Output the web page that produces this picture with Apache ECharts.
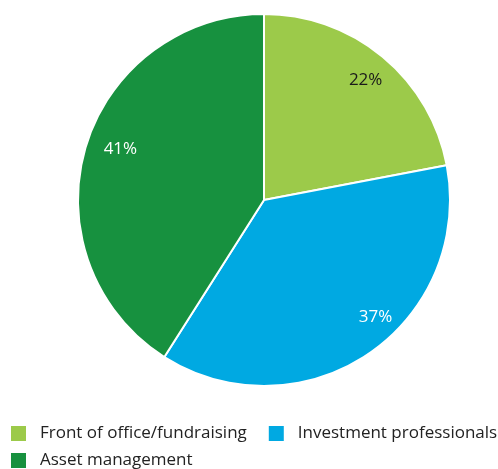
<!DOCTYPE html>
<html>
<head>
<meta charset="utf-8">
<script src="https://cdn.jsdelivr.net/npm/echarts@6/dist/echarts.min.js"></script>
<style>
  html, body { margin: 0; padding: 0; background: #fff; }
  #chart { width: 498px; height: 469px; }
</style>
</head>
<body>
<div id="chart"></div>
<script>
// Staff split by function
const categories = ['Front of office/fundraising', 'Investment professionals', 'Asset management'];
const shares = [22, 37, 41];
const colors = ['#9CCA4A', '#00A9E2', '#17913F'];
const labelColors = ['#1a1a1a', '#ffffff', '#ffffff'];
// small nudges of the percentage labels away from the slice mid-angles
const labelNudges = [[-1, 4], [21, -16], [11, -6]];

const FONT = '"Open Sans", "Noto Sans", sans-serif';
const center = [264, 200];
const R = 186;

const sliceData = categories.map((name, i) => ({
  name, value: shares[i], itemStyle: { color: colors[i] }
}));

// transparent ring that only carries the percentage labels
const labelData = categories.map((name, i) => ({
  name, value: shares[i],
  label: { color: labelColors[i], offset: labelNudges[i] }
}));

const legendBase = {
  orient: 'horizontal',
  left: 11,
  width: 487,
  padding: 0,
  itemWidth: 15, itemHeight: 15, itemGap: 22,
  icon: 'rect',
  itemStyle: { borderWidth: 0 },
  textStyle: { fontFamily: FONT, fontSize: 17, color: '#222', padding: [0, 0, 0, 9] }
};

const chart = echarts.init(document.getElementById('chart'), null, { renderer: 'canvas' });
chart.setOption({
  animation: false,
  legend: [
    Object.assign({}, legendBase, { data: categories.slice(0, 2), top: 425 }),
    Object.assign({}, legendBase, { data: categories.slice(2), top: 452 })
  ],
  series: [
    {
      type: 'pie',
      center, radius: [0, R],
      startAngle: 90, clockwise: true,
      label: { show: false }, labelLine: { show: false },
      itemStyle: { borderColor: '#ffffff', borderWidth: 2 },
      emphasis: { disabled: true },
      data: sliceData
    },
    {
      type: 'pie',
      center, radius: [130, R],
      startAngle: 90, clockwise: true,
      silent: true,
      legendHoverLink: false,
      itemStyle: { color: 'rgba(0,0,0,0)' },
      label: {
        show: true, position: 'inside',
        formatter: '{c}%',
        fontFamily: FONT, fontSize: 17
      },
      labelLine: { show: false },
      emphasis: { disabled: true },
      data: labelData
    }
  ]
});
</script>
</body>
</html>
